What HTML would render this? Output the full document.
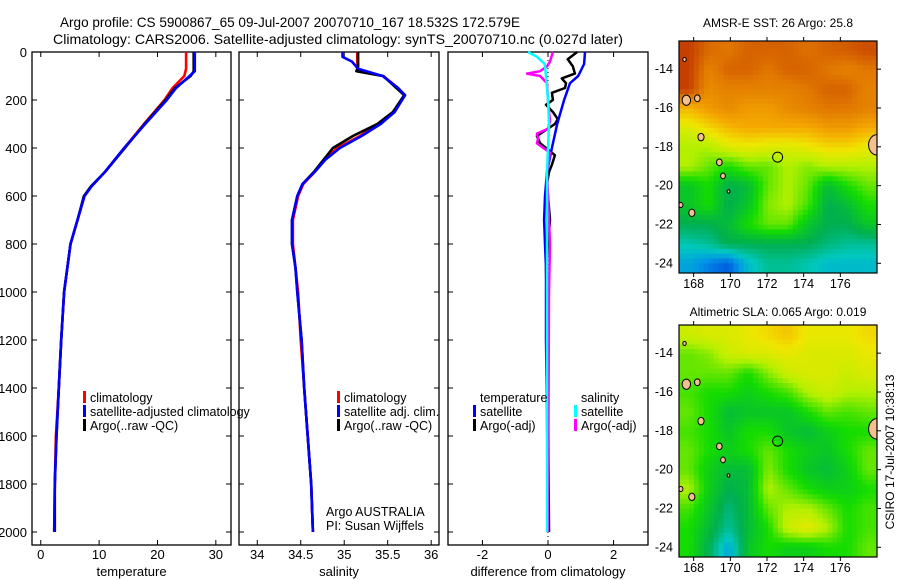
<!DOCTYPE html>
<html><head><meta charset="utf-8"><style>
body{margin:0;background:#fff;}
svg{display:block;font-family:"Liberation Sans",sans-serif;}
</style></head><body>
<svg id="c" width="900" height="580" xmlns="http://www.w3.org/2000/svg">
<defs>
<clipPath id="clipA"><rect x="679" y="41" width="198" height="232"/></clipPath>
<clipPath id="clipB"><rect x="679" y="325" width="198" height="232"/></clipPath>
</defs>
<rect width="900" height="580" fill="#fff"/>
<text x="60" y="27" font-size="14" textLength="460" lengthAdjust="spacingAndGlyphs">Argo profile: CS 5900867_65 09-Jul-2007 20070710_167 18.532S 172.579E</text>
<text x="53" y="44" font-size="14" textLength="570" lengthAdjust="spacingAndGlyphs">Climatology: CARS2006. Satellite-adjusted climatology: synTS_20070710.nc (0.027d later)</text>
<text x="778" y="27" font-size="12" text-anchor="middle">AMSR-E SST: 26 Argo: 25.8</text>
<text x="778" y="316" font-size="12" text-anchor="middle">Altimetric SLA: 0.065 Argo: 0.019</text>
<text transform="translate(894,452) rotate(-90)" font-size="12" text-anchor="middle">CSIRO 17-Jul-2007 10:38:13</text>
<g id="g"></g>
</svg>
<script>
// ---- data ----
const tempDepth = [0,80,100,150,200,300,400,500,560,600,700,800,1000,1200,1400,1600,1800,2000];
const tempArgo  = [26.2,26.2,25.7,23.0,21.4,17.8,14.4,11.0,8.6,7.4,6.3,5.1,4.0,3.5,3.1,2.7,2.4,2.4];
const tempSat   = [26.4,26.4,25.5,23.2,21.6,17.9,14.3,11.0,8.7,7.5,6.3,5.1,4.0,3.5,3.1,2.7,2.4,2.3];
const tempClimDepth = [0,70,100,150,200,300,400,500,560,600,700,800,1000,1200,1400,1600,1800,2000];
const tempClim  = [24.9,24.9,24.6,22.6,21.2,17.7,14.3,11.0,8.7,7.5,6.3,5.1,4.0,3.5,3.1,2.6,2.4,2.3];
const salDepth  = [0,60,80,100,150,180,250,300,350,400,450,500,550,600,700,800,900,1000,1200,1400,1600,1800,2000];
const salArgo   = [35.16,35.16,35.14,35.45,35.60,35.69,35.56,35.38,35.10,34.87,34.76,34.65,34.52,34.46,34.40,34.40,34.44,34.46,34.51,34.54,34.58,34.62,34.64];
const salSatDepth = [0,20,40,70,100,150,180,250,300,350,400,450,500,550,600,700,800,900,1000,1200,1400,1600,1800,2000];
const salSat    = [34.98,34.98,35.09,35.16,35.44,35.62,35.70,35.58,35.42,35.20,34.95,34.78,34.66,34.52,34.46,34.40,34.40,34.44,34.46,34.51,34.54,34.58,34.62,34.64];
const salClimDepth = [0,40,80,100,150,180,250,300,350,400,450,500,550,600,700,800,1000,1200,1400,1600,1800,2000];
const salClim   = [35.15,35.15,35.16,35.45,35.62,35.69,35.57,35.40,35.18,34.92,34.77,34.66,34.53,34.47,34.41,34.41,34.47,34.50,34.54,34.58,34.62,34.64];
const dTempSatDepth = [0,50,100,130,200,300,400,500,600,700,800,900,1000,1200,1500,2000];
const dTempSat  = [1.13,1.10,0.92,0.67,0.49,0.28,0.12,-0.03,-0.09,-0.12,-0.09,-0.06,-0.06,-0.06,-0.03,0.0];
const dTempArgoDepth = [0,30,60,90,110,130,150,170,200,220,250,280,300,350,380,430,470,500,550,700,900,1100,1400,2000];
const dTempArgo = [0.89,0.60,0.76,0.82,0.42,0.55,0.52,0.12,0.15,-0.06,0.15,0.30,0.21,-0.34,-0.24,0.21,0.12,0.03,-0.03,0.06,-0.06,-0.03,0.0,0.03];
const dSalSatDepth = [0,20,50,100,200,300,500,1000,1500,2000];
const dSalSat   = [-0.61,-0.34,-0.10,-0.06,0.0,0.03,-0.03,-0.03,-0.03,-0.03];
const dSalArgoDepth = [0,40,60,80,90,100,130,200,290,320,340,360,380,420,500,800,1000,2000];
const dSalArgo  = [0.15,0.06,-0.03,-0.24,-0.64,-0.24,-0.03,0.0,0.06,0.0,-0.34,-0.30,-0.34,0.06,-0.03,0.06,0.03,0.0];
const sstGrid = [
[0.90,0.84,0.82,0.85,0.85,0.85,0.83,0.85,0.86,0.88],
[0.90,0.80,0.85,0.85,0.82,0.85,0.85,0.82,0.80,0.82],
[0.90,0.78,0.80,0.80,0.80,0.80,0.82,0.85,0.85,0.80],
[0.70,0.75,0.78,0.75,0.75,0.78,0.80,0.82,0.82,0.80],
[0.60,0.65,0.70,0.72,0.72,0.72,0.72,0.75,0.75,0.72],
[0.55,0.55,0.60,0.62,0.60,0.60,0.62,0.65,0.65,0.62],
[0.55,0.50,0.45,0.50,0.50,0.55,0.52,0.55,0.55,0.55],
[0.40,0.45,0.35,0.38,0.50,0.55,0.50,0.38,0.45,0.50],
[0.40,0.45,0.35,0.40,0.52,0.55,0.48,0.35,0.38,0.45],
[0.35,0.35,0.38,0.45,0.50,0.50,0.40,0.35,0.35,0.40],
[0.28,0.30,0.35,0.35,0.35,0.35,0.35,0.32,0.30,0.30],
[0.22,0.18,0.15,0.25,0.30,0.30,0.28,0.25,0.25,0.25]];
const slaGrid = [
[0.58,0.60,0.60,0.62,0.65,0.68,0.62,0.62,0.62,0.65],
[0.50,0.52,0.58,0.60,0.60,0.62,0.60,0.60,0.60,0.62],
[0.50,0.50,0.50,0.45,0.52,0.58,0.60,0.60,0.58,0.60],
[0.48,0.45,0.45,0.42,0.45,0.48,0.55,0.58,0.55,0.55],
[0.50,0.45,0.38,0.40,0.40,0.40,0.45,0.50,0.48,0.50],
[0.48,0.45,0.40,0.45,0.45,0.40,0.38,0.42,0.45,0.45],
[0.50,0.45,0.42,0.45,0.50,0.45,0.42,0.40,0.45,0.50],
[0.50,0.42,0.38,0.38,0.52,0.45,0.40,0.38,0.42,0.50],
[0.55,0.42,0.35,0.38,0.55,0.50,0.45,0.42,0.42,0.45],
[0.48,0.40,0.32,0.38,0.50,0.55,0.55,0.50,0.45,0.48],
[0.45,0.38,0.30,0.38,0.45,0.58,0.62,0.55,0.45,0.48],
[0.45,0.35,0.22,0.40,0.45,0.42,0.42,0.45,0.45,0.50]];
const argoLon = 172.58, argoLat = -18.53;
const islandLon = [167.6,168.2,168.4,169.4,169.6,169.9,167.3,167.9,178.0,167.5];
const islandLat = [-15.6,-15.5,-17.5,-18.8,-19.5,-20.3,-21.0,-21.4,-17.9,-13.5];
const islandR   = [0.3,0.2,0.22,0.2,0.17,0.1,0.15,0.22,0.6,0.12];
const depthTicks = [0,200,400,600,800,1000,1200,1400,1600,1800,2000];
const tempTicks = [0,10,20,30];
const salTicks = [34,34.5,35,35.5,36];
const salTickLabels = ["34","34.5","35","35.5","36"];
const diffTicks = [-2,0,2];
const lonTicks = [168,170,172,174,176];
const latTicks = [-14,-16,-18,-20,-22,-24];

// ---- drawing ----
const NS="http://www.w3.org/2000/svg", G=document.getElementById('g');
function mk(t,a,p){const e=document.createElementNS(NS,t);for(const k in a)e.setAttribute(k,a[k]);(p||G).appendChild(e);return e;}
const yD = d => 52 + d*0.24;
const panels = [
 {x0:32,x1:231,lo:-1.5,hi:32.6,ticks:tempTicks,labels:tempTicks.map(String),title:'temperature',name:'temperature'},
 {x0:239,x1:439,lo:33.79,hi:36.09,ticks:salTicks,labels:salTickLabels,title:'salinity',name:'salinity'},
 {x0:448,x1:648,lo:-3.05,hi:3.05,ticks:diffTicks,labels:diffTicks.map(String),title:'difference from climatology',name:'difference'}];
panels.forEach(p=>{p.sx=v=>p.x0+(v-p.lo)/(p.hi-p.lo)*(p.x1-p.x0);});
const Y0=52,Y1=545;
panels.forEach((p,i)=>{
 const r=mk('rect',{x:p.x0,y:Y0,width:p.x1-p.x0,height:Y1-Y0,fill:'none',stroke:'#000','stroke-width':1.3});
 
 
 p.ticks.forEach((t,j)=>{const x=p.sx(t);
  mk('line',{x1:x,x2:x,y1:Y1,y2:Y1-5,stroke:'#000'});mk('line',{x1:x,x2:x,y1:Y0,y2:Y0+5,stroke:'#000'});
  const tx=mk('text',{x:x,y:559,'font-size':13,'text-anchor':'middle'});tx.textContent=p.labels[j];
  
  });
 const tt=mk('text',{x:(p.x0+p.x1)/2,y:576,'font-size':13,'text-anchor':'middle'});tt.textContent=p.title;
 
 
 depthTicks.forEach(d=>{const y=yD(d);
  mk('line',{x1:p.x0,x2:p.x0+5,y1:y,y2:y,stroke:'#000'});mk('line',{x1:p.x1,x2:p.x1-5,y1:y,y2:y,stroke:'#000'});
  if(i===0){const t=mk('text',{x:27,y:y+5,'font-size':13,'text-anchor':'end'});t.textContent=d;
   
   }});
});
function line(p,depths,vals,col,w,name){
 const pts=depths.map((d,k)=>p.sx(vals[k]).toFixed(1)+','+yD(d).toFixed(1)).join(' ');
 const e=mk('polyline',{points:pts,fill:'none',stroke:col,'stroke-width':w,'stroke-linejoin':'round'});
 
 
}
const [P1,P2,P3]=panels;
line(P1,tempClimDepth,tempClim,'#f00',2.6,'temperature-climatology-line');
line(P1,tempDepth,tempArgo,'#000',2.6,'temperature-argo-line');
line(P1,tempDepth,tempSat,'#00f',2.6,'temperature-satellite-line');
line(P2,salClimDepth,salClim,'#f00',2.6,'salinity-climatology-line');
line(P2,salDepth,salArgo,'#000',2.6,'salinity-argo-line');
line(P2,salSatDepth,salSat,'#00f',2.6,'salinity-satellite-line');
mk('line',{x1:P3.sx(0),x2:P3.sx(0),y1:Y0,y2:Y1,stroke:'#000','stroke-dasharray':'1,3'});
line(P3,dTempArgoDepth,dTempArgo,'#000',2.5,'temp-diff-argo-line');
line(P3,dTempSatDepth,dTempSat,'#00f',2.5,'temp-diff-satellite-line');
line(P3,dSalArgoDepth,dSalArgo,'#f0f',2.5,'sal-diff-argo-line');
line(P3,dSalSatDepth,dSalSat,'#0ff',2.5,'sal-diff-satellite-line');
function legend(x,y,col,txt,name){
 if(col){mk('rect',{x:x,y:y-11,width:3,height:12,fill:col});}
 const t=mk('text',{x:x+7,y:y,'font-size':12.5});t.textContent=txt;
 
 
}
legend(83,402,'#f00','climatology','legend-climatology');
legend(83,416,'#00f','satellite-adjusted climatology','legend-satellite-adjusted');
legend(83,430,'#000','Argo(..raw -QC)','legend-argo-raw');
legend(337,402,'#f00','climatology','legend-sal-climatology');
legend(337,416,'#00f','satellite adj. clim.','legend-sal-satellite');
legend(337,430,'#000','Argo(..raw -QC)','legend-sal-argo');
legend(473,402,null,'temperature','legend-temperature-header');
legend(473,416,'#00f','satellite','legend-temp-satellite');
legend(473,430,'#000','Argo(-adj)','legend-temp-argo');
legend(574,402,null,'salinity','legend-salinity-header');
legend(574,416,'#0ff','satellite','legend-sal-satellite-diff');
legend(574,430,'#f0f','Argo(-adj)','legend-sal-argo-diff');
legend(319,516,null,'Argo AUSTRALIA','credit-argo-australia');
legend(319,530,null,'PI: Susan Wijffels','credit-pi');
// colormap
const stops=[[0.12,[0,60,220]],[0.2,[0,150,230]],[0.27,[0,200,190]],[0.35,[0,175,80]],[0.45,[20,220,0]],[0.55,[180,240,0]],[0.63,[240,230,0]],[0.72,[245,170,0]],[0.82,[225,120,0]],[0.92,[190,50,0]]];
function cmap(v){for(let i=1;i<stops.length;i++){if(v<=stops[i][0]){const [a,ca]=stops[i-1],[b,cb]=stops[i];const t=Math.max(0,(v-a)/(b-a));
 return 'rgb('+ca.map((c,k)=>Math.round(c+(cb[k]-c)*t)).join(',')+')';}}return 'rgb(190,50,0)';}
function map(y0,y1,grid,name,clip){
 const x0=679,x1=877,lon0=167.2,lon1=178.0,lat0=-12.55,lat1=-24.5;
 const sx=l=>x0+(l-lon0)/(lon1-lon0)*(x1-x0), sy=l=>y0+(l-lat0)/(lat1-lat0)*(y1-y0);
 const outer=mk('g',{});
 
 
 const g=mk('g',{'clip-path':'url(#'+clip+')'},outer);
 const R=grid.length,C=grid[0].length,sub=4;
 for(let r=0;r<R*sub;r++)for(let c=0;c<C*sub;c++){
  const fr=Math.min(R-1,Math.max(0,(r+0.5)/sub-0.5)),fc=Math.min(C-1,Math.max(0,(c+0.5)/sub-0.5));
  const r0=Math.floor(fr),c0=Math.floor(fc),r1=Math.min(R-1,r0+1),c1=Math.min(C-1,c0+1),tr=fr-r0,tc=fc-c0;
  const v=(grid[r0][c0]*(1-tc)+grid[r0][c1]*tc)*(1-tr)+(grid[r1][c0]*(1-tc)+grid[r1][c1]*tc)*tr;
  const w=(x1-x0)/(C*sub),h=(y1-y0)/(R*sub);
  mk('rect',{x:(x0+c*w).toFixed(2),y:(y0+r*h).toFixed(2),width:(w+0.6).toFixed(2),height:(h+0.6).toFixed(2),fill:cmap(v)},g);
 }
 islandLon.forEach((l,k)=>{const e=mk('ellipse',{cx:sx(l),cy:sy(islandLat[k]),rx:islandR[k]*14,ry:islandR[k]*17,fill:'#f5c090',stroke:'#000','stroke-width':1},g);
  
  });
 const c=mk('circle',{cx:sx(argoLon),cy:sy(argoLat),r:5,fill:'none',stroke:'#000','stroke-width':1},g);
 
 
 mk('rect',{x:x0,y:y0,width:x1-x0,height:y1-y0,fill:'none',stroke:'#000','stroke-width':1.2},outer);
 lonTicks.forEach(l=>{const x=sx(l);mk('line',{x1:x,x2:x,y1:y0,y2:y0-4,stroke:'#000'},outer);mk('line',{x1:x,x2:x,y1:y1,y2:y1+4,stroke:'#000'},outer);
  const t=mk('text',{x:x,y:y1+15,'font-size':12.5,'text-anchor':'middle'},outer);t.textContent=l;
  
  });
 latTicks.forEach(l=>{const y=sy(l);mk('line',{x1:x1,x2:x1+4,y1:y,y2:y,stroke:'#000'},outer);
  const t=mk('text',{x:x0-6,y:y+4,'font-size':12.5,'text-anchor':'end'},outer);t.textContent=l;
  
  });
}
map(41,273,sstGrid,'sst-map','clipA');
map(325,557,slaGrid,'sla-map','clipB');
</script>
</body></html>
